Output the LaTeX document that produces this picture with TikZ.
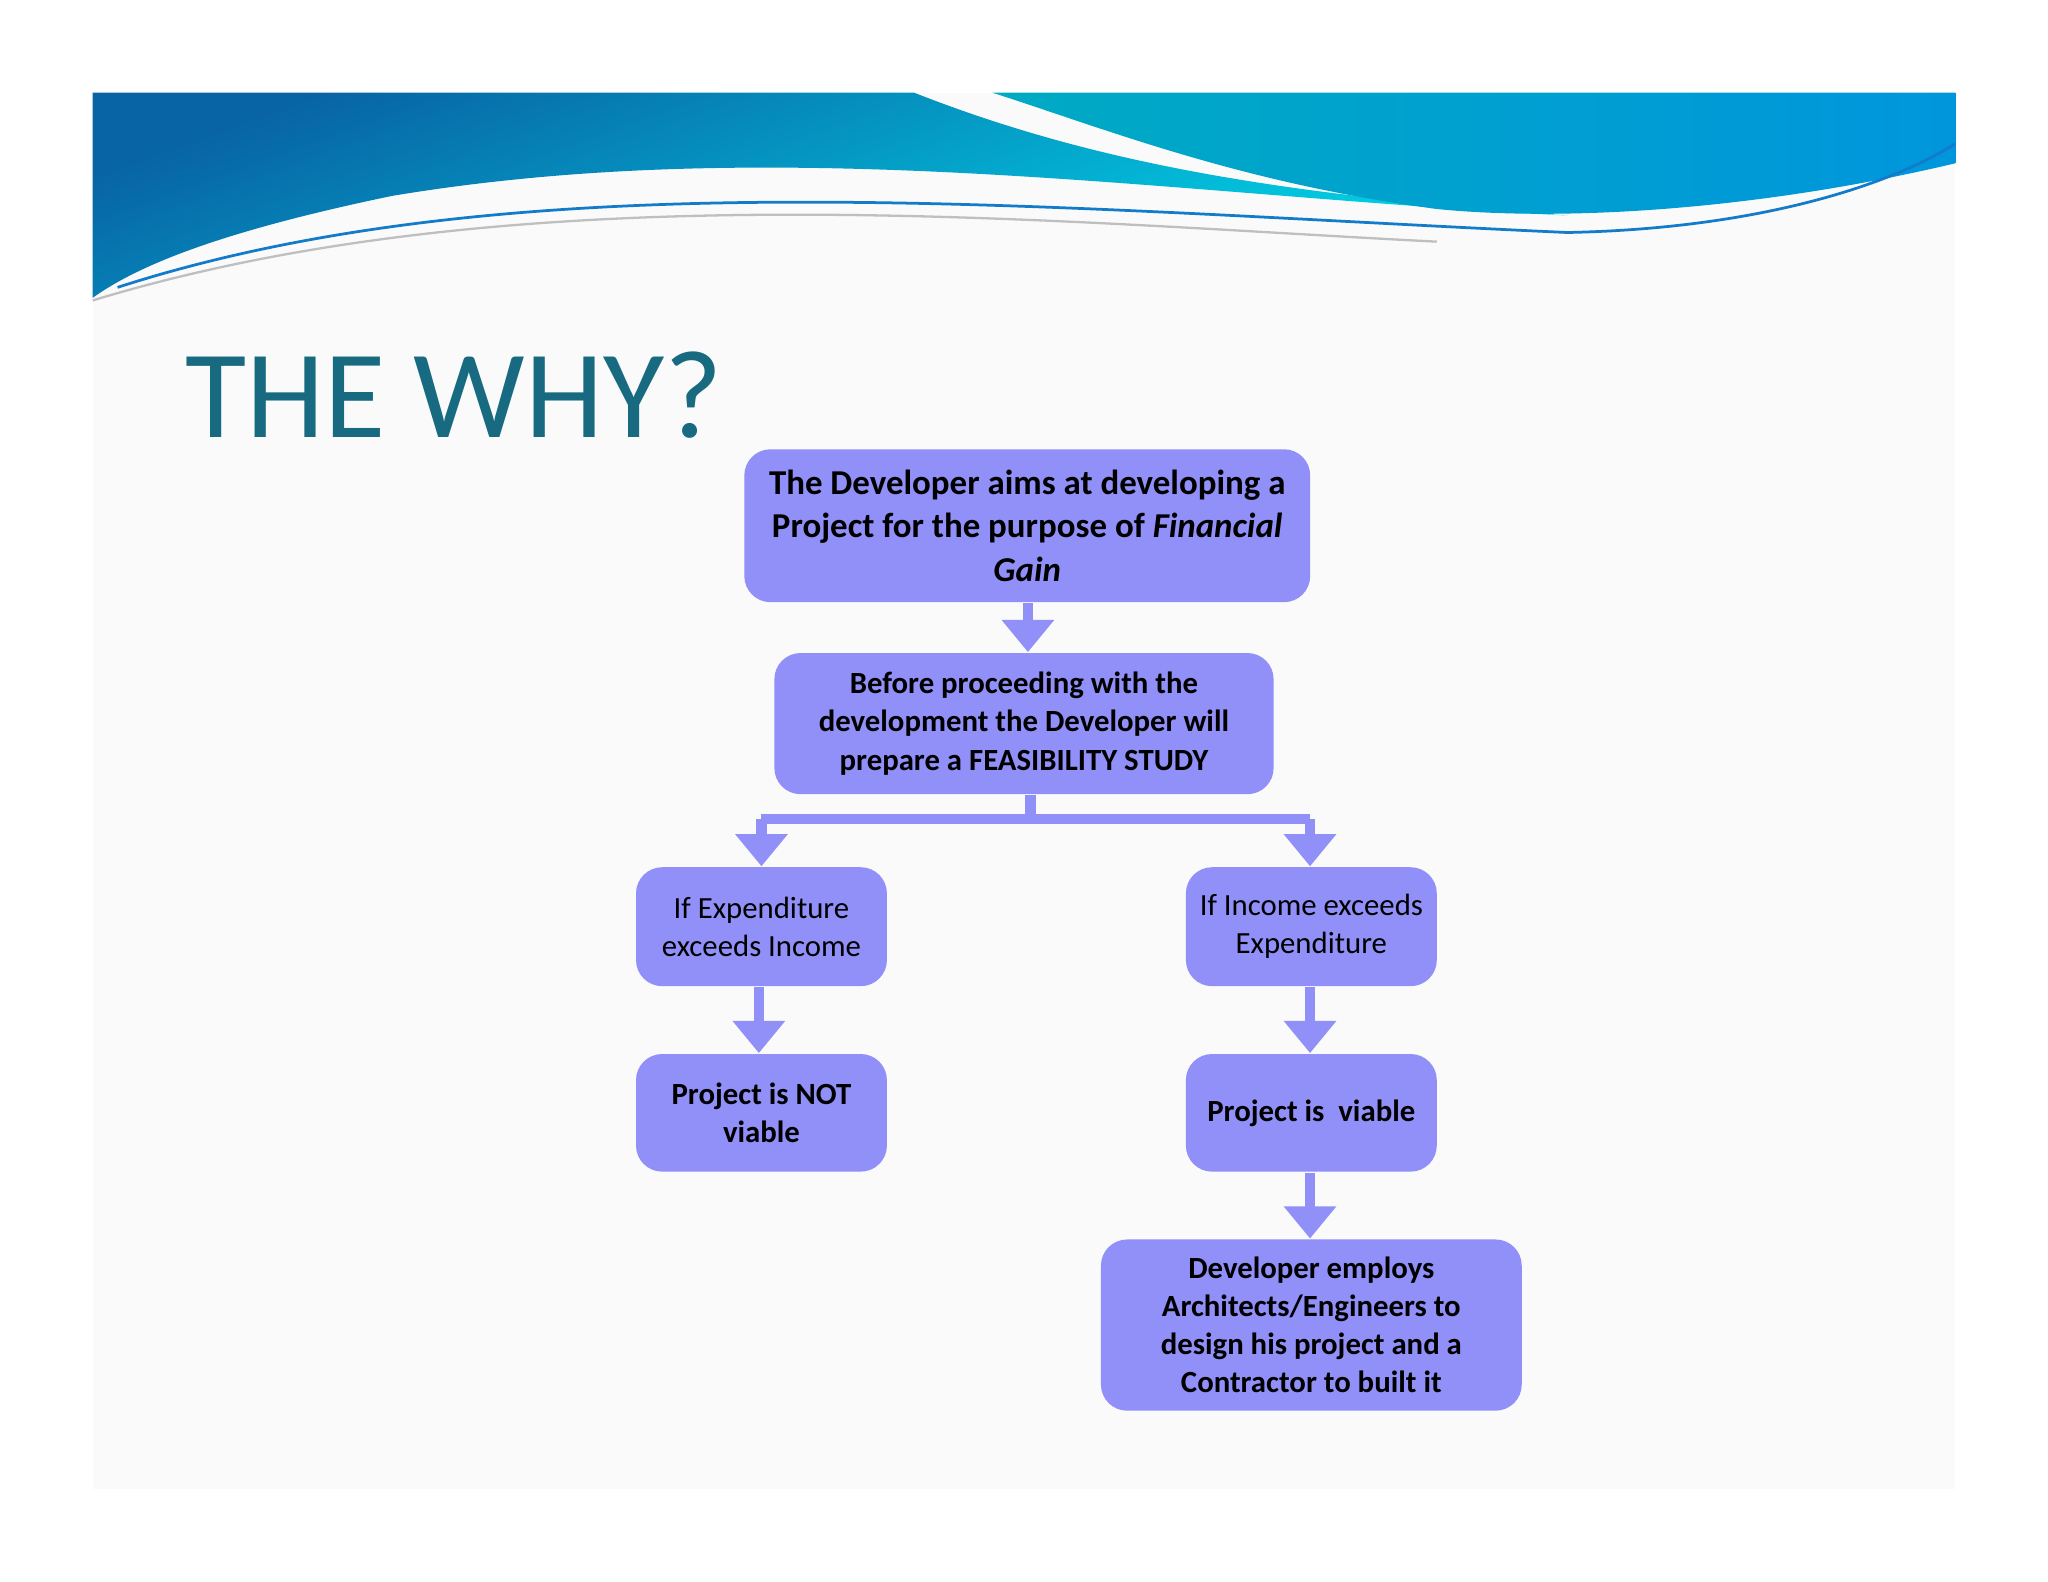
\documentclass[tikz,border=0pt]{standalone}
\usepackage{fontspec}
\setmainfont{Carlito}
\usetikzlibrary{arrows.meta}
\definecolor{boxc}{HTML}{9090F8}
\definecolor{titlec}{HTML}{176A80}
\tikzset{
 box/.style={fill=boxc,rounded corners=0.2cm,align=center,inner sep=0pt,font=\fontsize{6.7}{8.3}\selectfont\bfseries},
 conn/.style={boxc,line width=2.3pt,-{Triangle[length=7pt,width=11pt]}},
 bar/.style={boxc,line width=2.3pt}
}
\begin{document}
\begin{tikzpicture}[x=0.01cm,y=-0.01cm]
\useasboundingbox (0,0) rectangle (1568,1211);
\fill[white] (0,0) rectangle (1568,1211);
\fill[gray!4] (71,71) rectangle (1497,1140);
% header
\shade[top color={rgb,255:red,8;green,100;blue,165},bottom color={rgb,255:red,0;green,220;blue,235},shading angle=20]
 (71,71) -- (700,71) .. controls (850,130) and (1000,150) .. (1200,165)
 .. controls (900,150) and (600,100) .. (300,150) .. controls (180,175) and (110,200) .. (71,228) -- cycle;
\shade[left color={rgb,255:red,0;green,170;blue,195},right color={rgb,255:red,0;green,150;blue,220}]
 (760,71) -- (1497,71) -- (1497,125) .. controls (1350,160) and (1200,170) .. (1100,160)
 .. controls (950,140) and (850,100) .. (760,71) -- cycle;
\draw[cyan!60!blue,line width=0.6pt] (90,220) .. controls (400,120) and (800,160) .. (1200,178) .. controls (1350,175) and (1450,140) .. (1497,110);
\draw[gray!50,line width=0.5pt] (71,230) .. controls (400,130) and (800,170) .. (1100,185);
% title
\node[anchor=base west,text=titlec,font=\fontsize{27.3}{30}\selectfont,inner sep=0pt] (title) at (141,335) {THE WHY?};
% boxes
\node[box,minimum width=4.33cm,minimum height=1.17cm,font=\fontsize{7.6}{9.4}\selectfont\bfseries] (b1) at (786.5,402.5) {The Developer aims at developing a\\Project for the purpose of \textit{Financial}\\\textit{Gain}};
\node[box,minimum width=3.82cm,minimum height=1.08cm] (b2) at (784,554) {Before proceeding with the\\development the Developer will\\prepare a FEASIBILITY STUDY};
\node[box,minimum width=1.92cm,minimum height=0.91cm,font=\fontsize{6.7}{8.3}\selectfont] (b3) at (583,709.5) {If Expenditure\\exceeds Income};
\node[box,minimum width=1.92cm,minimum height=0.91cm,font=\fontsize{6.7}{8.3}\selectfont] (b4) at (1004,709.5) {If Income exceeds\\Expenditure};
\node[box,minimum width=1.92cm,minimum height=0.90cm] (b5) at (583,852) {Project is NOT\\viable};
\node[box,minimum width=1.92cm,minimum height=0.90cm] (b6) at (1004,852) {Project is\ \ viable};
\node[box,minimum width=3.22cm,minimum height=1.31cm] (b7) at (1004,1014.5) {Developer employs\\Architects/Engineers to\\design his project and a\\Contractor to built it};
% connectors
\draw[conn] (b1.south -| 787,0) -- (b2.north -| 787,0);
\coordinate (j) at (789,627);
\coordinate (jl) at (583,627);
\coordinate (jr) at (1003,627);
\draw[bar] (b2.south -| 789,0) -- (j);
\draw[bar] (jl) -- (jr);
\draw[conn] (jl) -- (b3.north -| jl);
\draw[conn] (jr) -- (b4.north -| jr);
\draw[conn] (b3.south -| 581,0) -- (b5.north -| 581,0);
\draw[conn] (b4.south -| 1003,0) -- (b6.north -| 1003,0);
\draw[conn] (b6.south -| 1003,0) -- (b7.north -| 1003,0);
\end{tikzpicture}
\end{document}
